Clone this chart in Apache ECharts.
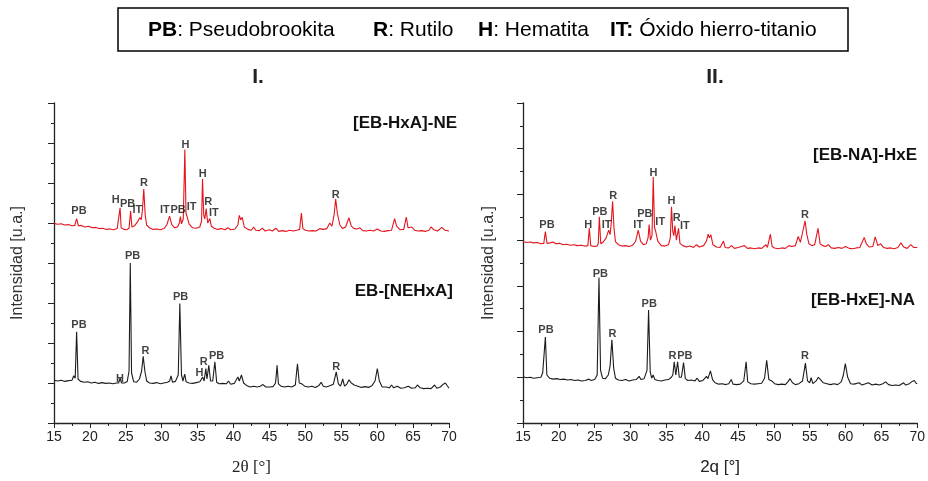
<!DOCTYPE html>
<html>
<head>
<meta charset="utf-8">
<title>DRX</title>
<script src="https://cdn.jsdelivr.net/npm/echarts@6/dist/echarts.min.js"></script>
<style>
  html, body { margin: 0; padding: 0; background: #fff; }
  #box { width: 928px; height: 481px; }
</style>
</head>
<body>
<div id="box"></div>
<script>
// tick labels of the 2theta axis
var xTicks = [15, 20, 25, 30, 35, 40, 45, 50, 55, 60, 65, 70];

// panel I, [EB-HxA]-NE (red, shifted up)
var redI = [[15,4.99],[15.5,4.97],[16,4.98],[16.5,4.95],[17,4.96],[17.5,4.93],[17.9,4.94],[18.15,5.11],[18.4,4.93],[18.8,4.94],[19.3,4.9],[19.8,4.92],[20.3,4.88],[20.8,4.89],[21.3,4.86],[21.8,4.87],[22.3,4.84],[22.8,4.85],[23.3,4.83],[23.8,4.86],[24.05,4.87],[24.2,5.38],[24.35,4.88],[24.7,4.84],[25.1,4.83],[25.45,4.87],[25.67,5.3],[25.85,4.9],[26.2,4.93],[26.6,5.02],[26.96,5.14],[27.15,5.08],[27.3,5.3],[27.5,5.85],[27.7,5.2],[27.9,4.95],[28.3,4.88],[28.8,4.84],[29.3,4.85],[29.8,4.83],[30.3,4.86],[30.7,4.95],[31.09,5.17],[31.4,4.96],[31.8,4.88],[32.2,4.9],[32.45,5.0],[32.6,5.16],[32.75,4.98],[33.0,5.1],[33.22,6.84],[33.38,5.25],[33.5,5.18],[33.8,4.98],[34.3,4.88],[34.8,4.87],[35.3,4.9],[35.55,5.05],[35.68,6.1],[35.85,5.2],[36.0,5.1],[36.19,5.36],[36.4,5.0],[36.7,5.11],[36.9,4.92],[37.3,4.87],[37.8,4.84],[38.3,4.86],[38.8,4.83],[39.2,4.88],[39.6,4.83],[40.2,4.85],[40.6,4.95],[40.8,5.19],[41.0,5.08],[41.2,5.14],[41.5,4.9],[42.0,4.84],[42.5,4.82],[42.8,4.9],[43.1,4.82],[43.6,4.81],[44.0,4.87],[44.4,4.8],[45.0,4.83],[45.4,4.8],[45.9,4.87],[46.3,4.79],[46.8,4.81],[47.3,4.79],[47.8,4.82],[48.3,4.8],[48.8,4.82],[49.2,4.84],[49.45,5.25],[49.65,4.86],[50.0,4.82],[50.5,4.8],[51.0,4.81],[51.5,4.8],[52.0,4.86],[52.5,4.84],[53.0,4.86],[53.4,5.0],[53.7,4.92],[54.0,5.2],[54.22,5.6],[54.45,5.25],[54.8,4.95],[55.2,4.86],[55.6,4.9],[56.07,5.13],[56.4,4.92],[56.8,4.86],[57.2,4.85],[57.6,4.88],[58.0,4.81],[58.5,4.8],[59.0,4.82],[59.5,4.8],[60.0,4.85],[60.5,4.8],[61.0,4.79],[61.5,4.81],[62.0,4.82],[62.43,5.11],[62.7,4.92],[63.2,4.83],[63.7,4.84],[64.05,5.15],[64.3,4.88],[64.8,4.9],[65.2,4.82],[65.7,4.8],[66.2,4.81],[66.7,4.79],[67.2,4.82],[67.5,4.9],[67.9,4.83],[68.4,4.8],[69.0,4.89],[69.4,4.82],[70,4.8]];

// panel I, EB-[NEHxA] (black)
var blackI = [[15,1.07],[15.5,1.05],[16,1.07],[16.5,1.04],[17,1.06],[17.5,1.07],[17.75,1.18],[17.95,1.12],[18.15,2.28],[18.35,1.1],[18.7,1.04],[19.2,1.02],[19.7,1.03],[20.2,1.0],[20.7,1.02],[21.2,0.99],[21.7,1.01],[22.2,0.99],[22.7,1.0],[23.2,0.98],[23.7,1.0],[24.0,1.0],[24.2,1.12],[24.4,1.0],[24.8,1.0],[25.2,1.04],[25.45,1.3],[25.62,4.0],[25.8,1.25],[26.1,1.03],[26.5,1.02],[26.9,1.1],[27.2,1.3],[27.42,1.67],[27.65,1.3],[27.9,1.05],[28.3,1.0],[28.8,0.99],[29.3,1.01],[29.8,0.98],[30.3,1.0],[30.8,1.02],[31.1,1.05],[31.3,1.18],[31.5,1.02],[31.9,1.04],[32.3,1.2],[32.52,2.99],[32.75,1.2],[32.95,1.05],[33.2,1.22],[33.4,1.03],[33.8,1.0],[34.3,0.99],[34.8,1.01],[35.3,1.03],[35.7,1.15],[35.9,1.05],[36.14,1.36],[36.3,1.1],[36.55,1.44],[36.8,1.05],[37.1,1.05],[37.4,1.53],[37.65,1.02],[38.0,0.98],[38.5,0.99],[39.0,0.98],[39.3,1.05],[39.6,0.97],[40.1,0.99],[40.6,1.15],[40.8,1.05],[41.1,1.2],[41.4,1.0],[41.8,0.94],[42.3,0.9],[42.8,0.92],[43.3,0.9],[43.7,0.92],[44.1,0.96],[44.5,0.9],[45.0,0.9],[45.5,0.91],[45.85,1.0],[46.06,1.44],[46.25,0.98],[46.6,0.92],[47.1,0.9],[47.6,0.92],[48.1,0.9],[48.6,0.95],[48.9,1.48],[49.15,1.0],[49.5,0.98],[49.9,0.92],[50.4,0.9],[50.9,0.92],[51.4,0.89],[51.9,0.94],[52.2,1.02],[52.5,0.92],[52.9,0.9],[53.4,0.93],[53.9,0.97],[54.3,1.28],[54.6,0.98],[54.9,0.92],[55.2,1.1],[55.45,0.92],[55.8,0.98],[56.07,1.08],[56.4,1.0],[56.8,0.95],[57.3,0.92],[57.8,0.89],[58.3,0.91],[58.8,0.89],[59.3,0.94],[59.7,1.05],[60.02,1.36],[60.3,1.05],[60.7,0.9],[61.2,0.9],[61.7,0.88],[62.0,0.95],[62.3,0.88],[62.8,0.92],[63.3,0.87],[63.8,0.88],[64.3,0.92],[64.8,0.87],[65.3,0.88],[65.6,0.95],[66.0,0.88],[66.5,0.86],[67.0,0.87],[67.5,0.86],[68.0,0.95],[68.3,0.87],[68.8,0.9],[69.2,0.97],[69.5,1.0],[69.8,0.92],[70,0.87]];

// panel II, [EB-NA]-HxE (red)
var redII = [[15,3.97],[15.5,3.95],[16,3.96],[16.5,3.94],[17,3.95],[17.5,3.92],[17.9,3.93],[18.12,4.19],[18.35,3.93],[18.8,3.94],[19.2,3.96],[19.6,3.92],[20.1,3.93],[20.6,3.9],[21.1,3.91],[21.6,3.89],[22.1,3.9],[22.6,3.88],[23.1,3.89],[23.6,3.87],[24.05,3.88],[24.25,4.26],[24.45,3.88],[24.9,3.86],[25.3,3.87],[25.5,3.92],[25.65,4.51],[25.85,3.92],[26.2,3.96],[26.6,4.05],[26.95,4.22],[27.15,4.12],[27.3,4.35],[27.5,4.85],[27.7,4.25],[27.9,3.97],[28.3,3.9],[28.8,3.87],[29.3,3.88],[29.8,3.86],[30.3,3.89],[30.7,3.97],[31.08,4.22],[31.4,3.98],[31.8,3.9],[32.2,3.92],[32.45,4.05],[32.6,4.34],[32.78,4.0],[33.0,4.1],[33.17,5.38],[33.35,4.28],[33.5,4.2],[33.8,3.98],[34.3,3.88],[34.8,3.87],[35.3,3.9],[35.55,4.05],[35.72,4.73],[35.9,4.18],[36.05,4.1],[36.2,4.32],[36.4,4.0],[36.7,4.26],[36.9,3.93],[37.3,3.88],[37.8,3.85],[38.3,3.87],[38.8,3.84],[39.2,3.9],[39.6,3.85],[40.2,3.88],[40.6,3.98],[40.83,4.13],[41.0,4.05],[41.2,4.12],[41.5,3.9],[42.0,3.85],[42.5,3.84],[42.97,3.98],[43.2,3.84],[43.7,3.83],[44.1,3.88],[44.5,3.82],[45.0,3.84],[45.5,3.86],[45.9,3.88],[46.3,3.82],[46.8,3.83],[47.3,3.81],[47.8,3.83],[48.3,3.82],[48.9,3.9],[49.1,3.84],[49.52,4.13],[49.75,3.86],[50.1,3.83],[50.6,3.81],[51.1,3.83],[51.6,3.82],[52.1,3.88],[52.5,3.86],[53.0,3.88],[53.4,4.08],[53.7,3.95],[54.05,4.2],[54.35,4.42],[54.6,4.12],[54.9,3.92],[55.3,3.88],[55.7,3.9],[56.16,4.26],[56.45,3.92],[56.8,3.88],[57.2,3.86],[57.6,3.9],[58.0,3.83],[58.5,3.82],[59.0,3.84],[59.5,3.82],[60.0,3.86],[60.5,3.82],[61.0,3.81],[61.5,3.83],[62.0,3.84],[62.6,4.06],[62.9,3.92],[63.3,3.85],[63.8,3.86],[64.15,4.07],[64.5,3.88],[64.9,3.92],[65.3,3.84],[65.8,3.82],[66.3,3.83],[66.8,3.81],[67.3,3.84],[67.73,3.94],[68.1,3.85],[68.6,3.82],[69.1,3.9],[69.5,3.84],[70,3.84]];

// panel II, [EB-HxE]-NA (black)
var blackII = [[15,1.01],[15.5,0.99],[16,1.0],[16.5,0.98],[17,0.99],[17.5,1.0],[17.75,1.1],[17.95,1.08],[18.12,1.88],[18.33,1.05],[18.7,0.98],[19.2,0.96],[19.7,0.97],[20.2,0.95],[20.7,0.96],[21.2,0.94],[21.7,0.95],[22.2,0.93],[22.7,0.94],[23.2,0.92],[23.7,0.93],[24.2,0.96],[24.5,0.93],[25.0,0.95],[25.35,1.05],[25.6,3.18],[25.82,1.15],[26.1,0.98],[26.5,0.97],[26.9,1.05],[27.15,1.25],[27.4,1.82],[27.65,1.2],[27.9,0.98],[28.3,0.94],[28.8,0.93],[29.3,0.95],[29.8,0.92],[30.3,0.94],[30.8,0.95],[31.2,1.02],[31.45,0.95],[31.9,0.97],[32.3,1.15],[32.52,2.47],[32.75,1.12],[32.95,0.98],[33.15,1.05],[33.4,0.95],[33.8,0.93],[34.3,0.92],[34.8,0.94],[35.3,0.95],[35.7,1.0],[35.9,1.05],[36.1,1.34],[36.32,1.05],[36.57,1.34],[36.8,1.0],[37.1,1.0],[37.4,1.32],[37.65,0.97],[38.0,0.93],[38.5,0.94],[39.0,0.92],[39.3,0.98],[39.6,0.91],[40.1,0.93],[40.6,1.02],[40.8,0.97],[41.15,1.14],[41.45,0.95],[41.8,0.88],[42.3,0.85],[42.8,0.86],[43.3,0.84],[43.7,0.86],[44.05,0.95],[44.3,0.85],[44.8,0.84],[45.3,0.85],[45.8,0.92],[46.13,1.34],[46.35,0.9],[46.8,0.86],[47.3,0.85],[47.8,0.86],[48.3,0.87],[48.7,0.98],[49.0,1.37],[49.3,0.95],[49.7,0.92],[50.1,0.86],[50.6,0.84],[51.1,0.85],[51.6,0.84],[51.95,0.9],[52.26,0.97],[52.6,0.88],[53.0,0.84],[53.5,0.86],[54.0,0.92],[54.4,1.31],[54.7,0.92],[55.0,0.88],[55.2,0.99],[55.45,0.86],[55.9,0.92],[56.2,1.0],[56.5,0.95],[56.9,0.88],[57.4,0.86],[57.9,0.84],[58.4,0.86],[58.9,0.84],[59.4,0.9],[59.7,1.05],[59.97,1.3],[60.3,1.0],[60.7,0.86],[61.2,0.85],[61.9,0.88],[62.3,0.83],[62.8,0.86],[63.2,0.88],[63.7,0.83],[64.2,0.85],[64.7,0.83],[65.2,0.86],[65.6,0.9],[66.0,0.84],[66.5,0.82],[67.0,0.83],[67.5,0.82],[68.1,0.88],[68.4,0.83],[68.9,0.86],[69.3,0.91],[69.6,0.93],[69.85,0.87],[70,0.86]];

// phase labels over the peaks: [2theta, intensity, phase]
var labelsRedI = [[18.48,5.29,'PB'],[23.58,5.58,'H'],[25.25,5.48,'PB'],[26.6,5.32,'IT'],[27.52,5.99,'R'],[30.44,5.32,'IT'],[32.29,5.33,'PB'],[33.31,6.96,'H'],[34.15,5.41,'IT'],[35.72,6.22,'H'],[36.46,5.52,'R'],[37.25,5.26,'IT'],[54.22,5.71,'R']];
var labelsBlackI = [[18.48,2.45,'PB'],[24.18,1.11,'H'],[25.94,4.18,'PB'],[27.75,1.81,'R'],[32.62,3.16,'PB'],[35.26,1.26,'H'],[35.86,1.53,'R'],[37.63,1.67,'PB'],[54.3,1.4,'R']];
var labelsRedII = [[18.34,4.33,'PB'],[24.11,4.34,'H'],[25.73,4.62,'PB'],[26.66,4.33,'IT'],[27.6,4.97,'R'],[31.08,4.34,'IT'],[32.0,4.58,'PB'],[33.21,5.48,'H'],[34.15,4.4,'IT'],[35.72,4.85,'H'],[36.46,4.49,'R'],[37.58,4.32,'IT'],[54.35,4.56,'R']];
var labelsBlackII = [[18.2,2.03,'PB'],[25.78,3.26,'PB'],[27.5,1.95,'R'],[32.61,2.6,'PB'],[35.86,1.47,'R'],[37.58,1.47,'PB'],[54.35,1.46,'R']];

var sampleNames = ['[EB-HxA]-NE', 'EB-[NEHxA]', '[EB-NA]-HxE', '[EB-HxE]-NA'];
var panelTitles = ['I.', 'II.'];
var xNames = ['2θ [°]', '2q [°]'];
var yName = 'Intensidad [u.a.]';
// legend of the phases: [abbreviation, name]
var phaseKeys = ['PB', 'R', 'H', 'IT'];
var phaseNames = ['Pseudobrookita', 'Rutilo', 'Hematita', 'Óxido hierro-titanio'];

window.onload = function () {
    var myChart = echarts.init(document.getElementById('box'));
    var axisColor = '#222';
    var sans = '"Liberation Sans", Arial, sans-serif';
    var tickFont = '"Liberation Sans Narrow", "Arial Narrow", "Liberation Sans", Arial, sans-serif';

    function makeX(idx, nameFont) {
        return {
            type: 'value',
            gridIndex: idx,
            min: xTicks[0],
            max: xTicks[xTicks.length - 1],
            interval: xTicks[1] - xTicks[0],
            name: xNames[idx],
            nameLocation: 'middle',
            nameGap: 36,
            nameTextStyle: { fontFamily: nameFont, fontSize: 17, color: '#222' },
            axisLine: { lineStyle: { color: axisColor, width: 1.3 } },
            axisTick: { length: 5, lineStyle: { color: axisColor } },
            minorTick: { show: true, splitNumber: 2, length: 3, lineStyle: { color: axisColor } },
            axisLabel: { margin: 7, fontFamily: tickFont, fontSize: 14, color: '#222' },
            splitLine: { show: false }
        };
    }

    function makeY(idx, max, gap) {
        return {
            type: 'value',
            gridIndex: idx,
            min: 0,
            max: max,
            interval: 1,
            name: yName,
            nameLocation: 'middle',
            nameGap: gap,
            nameTextStyle: { fontFamily: sans, fontSize: 16, color: '#333' },
            axisLine: { show: true, lineStyle: { color: axisColor, width: 1.3 } },
            axisTick: { show: true, length: 6, lineStyle: { color: axisColor } },
            minorTick: { show: true, splitNumber: 2, length: 3, lineStyle: { color: axisColor } },
            axisLabel: { show: false },
            splitLine: { show: false }
        };
    }

    function curve(data, idx, color) {
        return {
            type: 'line',
            xAxisIndex: idx,
            yAxisIndex: idx,
            data: data,
            showSymbol: false,
            silent: true,
            lineStyle: { color: color, width: 1.1 },
            z: 2
        };
    }

    function peakLabels(data, idx) {
        return {
            type: 'scatter',
            xAxisIndex: idx,
            yAxisIndex: idx,
            data: data,
            symbolSize: 0,
            silent: true,
            encode: { x: 0, y: 1 },
            label: {
                show: true,
                position: 'inside',
                formatter: function (p) { return p.value[2]; },
                fontFamily: sans,
                fontWeight: 'bold',
                fontSize: 11,
                color: '#111'
            },
            z: 5
        };
    }

    function sampleText(text, right, y) {
        return {
            type: 'text',
            right: right,
            top: y - 10,
            style: {
                text: text,
                font: 'bold 17px ' + sans,
                fill: '#111'
            }
        };
    }

    // one legend entry of the header box
    var keyX = [148, 373, 478, 610];
    function keyText(i) {
        var sep = phaseKeys[i] === 'IT' ? ':}' : '}:';
        return {
            type: 'text',
            x: keyX[i],
            y: 30,
            style: {
                text: '{b|' + phaseKeys[i] + sep + ' ' + phaseNames[i],
                verticalAlign: 'middle',
                font: '21px ' + sans,
                fill: '#000',
                rich: { b: { font: 'bold 21px ' + sans, fill: '#000' } }
            }
        };
    }

    var option = {
        animation: false,
        backgroundColor: '#fff',
        grid: [
            { left: 54, top: 103, width: 395, height: 324 },
            { left: 523, top: 103, width: 395, height: 324 }
        ],
        xAxis: [
            makeX(0, '"Liberation Serif", "Times New Roman", serif'),
            makeX(1, tickFont)
        ],
        yAxis: [makeY(0, 8, 28), makeY(1, 7, 26)],
        series: [
            curve(redI, 0, '#e3141c'),
            curve(blackI, 0, '#1c1c1c'),
            curve(redII, 1, '#e3141c'),
            curve(blackII, 1, '#1c1c1c'),
            peakLabels(labelsRedI, 0),
            peakLabels(labelsBlackI, 0),
            peakLabels(labelsRedII, 1),
            peakLabels(labelsBlackII, 1)
        ],
        graphic: [
            {
                type: 'rect',
                shape: { x: 118, y: 8, width: 730, height: 43 },
                style: { fill: '#fff', stroke: '#000', lineWidth: 1.5 }
            },
            keyText(0), keyText(1), keyText(2), keyText(3),
            {
                type: 'text', x: 258, y: 77,
                style: { text: panelTitles[0], align: 'center', verticalAlign: 'middle', font: 'bold 21px ' + sans, fill: '#222' }
            },
            {
                type: 'text', x: 715, y: 77,
                style: { text: panelTitles[1], align: 'center', verticalAlign: 'middle', font: 'bold 21px ' + sans, fill: '#222' }
            },
            sampleText(sampleNames[0], 928 - 457, 125),
            sampleText(sampleNames[1], 928 - 453, 293),
            sampleText(sampleNames[2], 928 - 917, 157),
            sampleText(sampleNames[3], 928 - 915, 302)
        ]
    };
    myChart.setOption(option);
};
</script>
</body>
</html>
